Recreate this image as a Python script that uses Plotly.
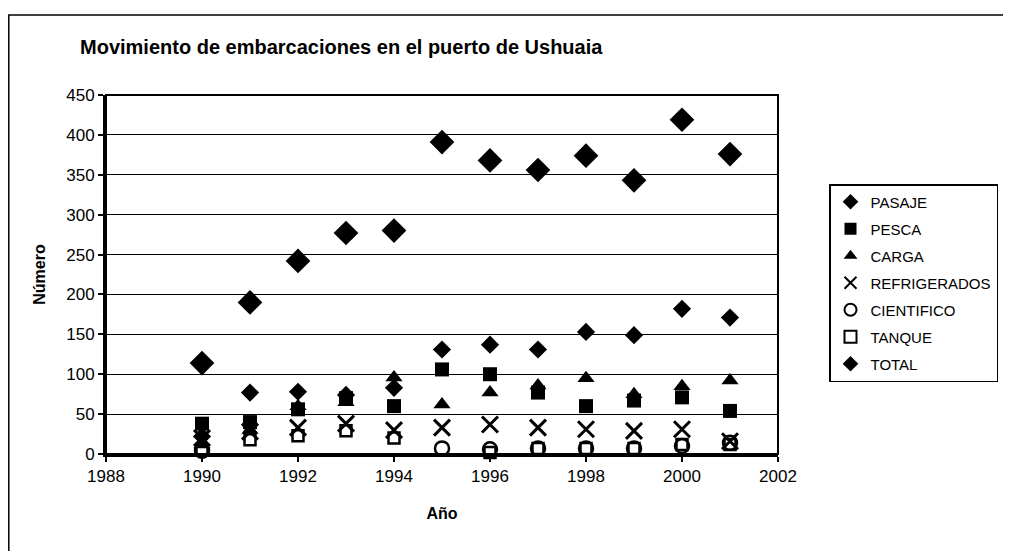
import plotly.graph_objects as go

years = [1990, 1991, 1992, 1993, 1994, 1995, 1996, 1997, 1998, 1999, 2000, 2001]
pasaje = [22, 77, 78, 74, 83, 131, 137, 131, 153, 149, 182, 171]
pesca = [38, 40, 56, 70, 60, 106, 100, 77, 60, 67, 71, 54]
carga = [12, 30, 60, 65, 96, 62, 77, 86, 95, 75, 85, 92]
refrigerados = [20, 28, 33, 38, 30, 33, 37, 33, 31, 29, 31, 16]
cientifico = [4, None, None, None, None, 7, 6, 7, 7, 7, 10, 14]
tanque = [5, 18, 23, 29, 20, None, 2, 7, 7, 7, 12, 12]
total = [114, 190, 242, 277, 280, 391, 368, 356, 374, 343, 419, 376]

series_names = ["PASAJE", "PESCA", "CARGA", "REFRIGERADOS", "CIENTIFICO", "TANQUE", "TOTAL"]
x_ticks = [1988, 1990, 1992, 1994, 1996, 1998, 2000, 2002]
y_ticks = [0, 50, 100, 150, 200, 250, 300, 350, 400, 450]

FONT = "Liberation Sans, Arial, sans-serif"

styles = [
    dict(symbol="diamond", size=14, color="black", line=dict(width=0)),
    dict(symbol="square", size=14, color="black", line=dict(width=0)),
    dict(symbol="triangle-up", size=15, color="black", line=dict(width=0)),
    dict(symbol="x-thin-open", size=16, color="black", line=dict(width=3, color="black")),
    dict(symbol="circle-open", size=14, color="black", line=dict(width=2.5, color="black")),
    dict(symbol="square-open", size=11, color="black", line=dict(width=2.5, color="black")),
    dict(symbol="diamond", size=19, color="black", line=dict(width=0)),
]
data = [pasaje, pesca, carga, refrigerados, cientifico, tanque, total]

fig = go.Figure()
for name, vals, st in zip(series_names, data, styles):
    fig.add_trace(go.Scatter(x=years, y=vals, mode="markers", name=name,
                             legendgroup=name, marker=st, cliponaxis=False))

# the page body adds an 8px offset; figure is sized to fit the window
OFF = 8
W, H = 1011 - OFF, 551 - OFF
L, T = 106 - OFF, 95 - OFF
R = W - (778 - OFF)
B = H - (454 - OFF)
PW, PH = W - L - R, H - T - B

def px(xp):
    return (xp - OFF - L) / PW

def py(yp):
    return (H - B - (yp - OFF)) / PH

fig.update_layout(
    width=W, height=H,
    margin=dict(l=L, r=R, t=T, b=B, autoexpand=False),
    paper_bgcolor="white", plot_bgcolor="white",
    font=dict(family=FONT, color="black", size=17),
    showlegend=True,
    legend=dict(x=px(829), y=py(184), xanchor="left", yanchor="top",
                bordercolor="black", borderwidth=1.5, bgcolor="white",
                font=dict(family=FONT, size=15, color="black"),
                itemsizing="constant", tracegroupgap=4.5, traceorder="grouped",
                itemwidth=30),
    annotations=[
        dict(text="<b>Movimiento de embarcaciones en el puerto de Ushuaia</b>",
             x=px(341), y=py(47), xref="paper", yref="paper",
             showarrow=False, font=dict(family=FONT, size=20, color="black"),
             xanchor="center", yanchor="middle"),
    ],
)

fig.update_xaxes(range=[1988, 2002], tickvals=x_ticks, ticktext=[str(v) for v in x_ticks],
                 showgrid=False, zeroline=False, showline=True, linecolor="black", linewidth=3,
                 ticks="outside", ticklen=5, tickwidth=1.5, tickcolor="black",
                 tickfont=dict(family=FONT, size=17), automargin=False,
                 title=dict(text="<b>Año</b>", font=dict(family=FONT, size=16), standoff=23))
fig.update_yaxes(range=[0, 450], tickvals=y_ticks, showgrid=True, gridcolor="black", gridwidth=1,
                 zeroline=False, showline=True, linecolor="black", linewidth=3,
                 ticks="outside", ticklen=5, tickwidth=1.5, tickcolor="black",
                 tickfont=dict(family=FONT, size=17), automargin=False,
                 title=dict(text="<b>Número</b>", font=dict(family=FONT, size=16), standoff=17))

# plot-area frame (top/right) and outer chart frame
fig.add_shape(type="rect", xref="paper", yref="paper", x0=0, x1=1, y0=0, y1=1,
              line=dict(color="black", width=2), layer="above")
fig.add_shape(type="rect", xref="paper", yref="paper",
              x0=px(8.8), x1=px(1030), y0=py(600), y1=py(15),
              line=dict(color="black", width=1.5), layer="below")

fig.write_html("out.html")
